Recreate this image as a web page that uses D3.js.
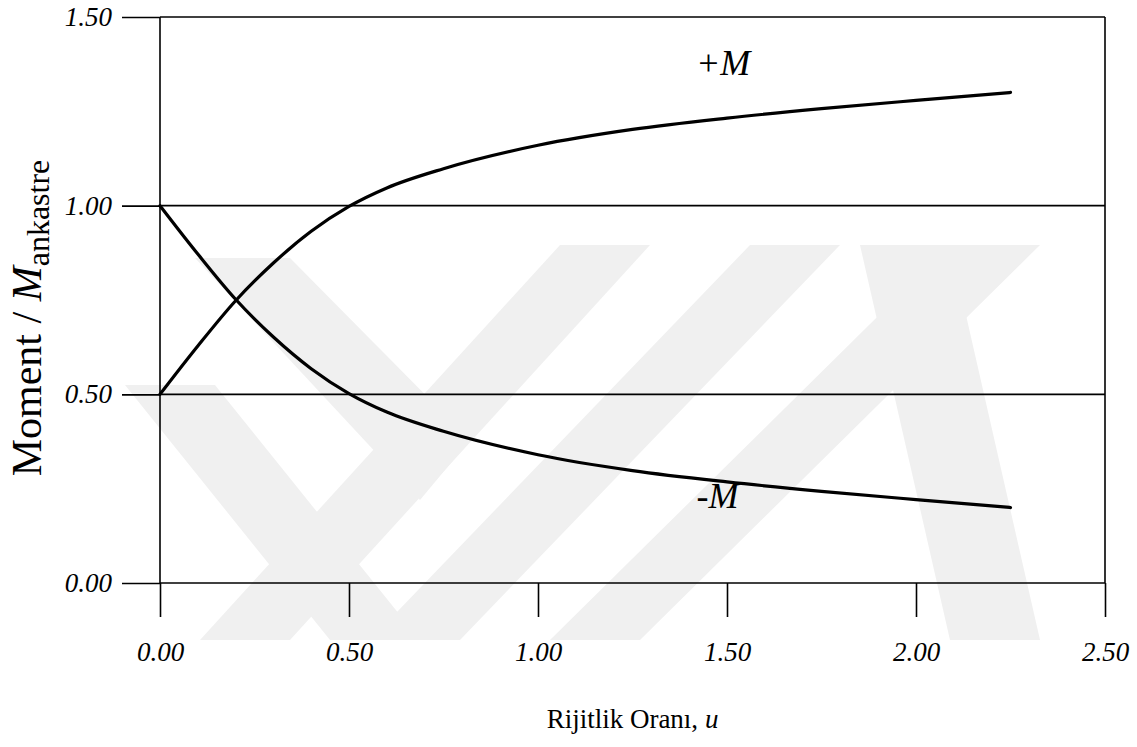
<!DOCTYPE html>
<html>
<head>
<meta charset="utf-8">
<script src="https://cdn.jsdelivr.net/npm/d3@7"></script>
<style>
  body { margin: 0; background: #fff; }
  svg { display: block; font-family: "Liberation Serif", "Times New Roman", serif; }
  .axis path.domain { display: none; }
  .axis line { stroke: #000; stroke-width: 1.6; }
  .axis text { font-family: "Liberation Serif", "Times New Roman", serif; font-size: 27px; font-style: italic; fill: #000; }
</style>
</head>
<body>
<svg id="chart" width="1137" height="747"></svg>
<script>
// stiffness ratio u (x values)
var uValues   = [0, 0.1, 0.2, 0.3, 0.4, 0.5, 0.6, 0.75, 1.0, 1.25, 1.5, 1.75, 2.0, 2.25];
// +M / M_ankastre
var posMoment = [0.50, 0.628, 0.748, 0.848, 0.932, 0.998, 1.047, 1.098, 1.16, 1.202, 1.232, 1.257, 1.279, 1.30];
// -M / M_ankastre
var negMoment = [1.00, 0.872, 0.752, 0.652, 0.568, 0.502, 0.453, 0.402, 0.34, 0.298, 0.268, 0.243, 0.221, 0.20];

var xTicks = [0, 0.5, 1.0, 1.5, 2.0, 2.5];
var yTicks = [0, 0.5, 1.0, 1.5];

// faint background watermark (pixel polygons, decoration only)
var watermark = [
  [[195,258],[290,258],[470,440],[420,500]],
  [[125,385],[215,385],[420,640],[330,640]],
  [[200,640],[290,640],[650,245],[560,245]],
  [[370,640],[460,640],[840,245],[750,245]],
  [[550,640],[640,640],[1040,245],[950,245]],
  [[860,245],[950,245],[1040,640],[950,640]]
];

(function(){
  var svg = d3.select("#chart");
  var margin = {left: 160, right: 32, top: 17, bottom: 164};
  var width = 1137 - margin.left - margin.right,
      height = 747 - margin.top - margin.bottom;

  svg.append("g").selectAll("polygon")
    .data(watermark)
    .enter().append("polygon")
    .attr("points", function(d){ return d.map(function(p){ return p.join(","); }).join(" "); })
    .attr("fill", "#f0f0f0");

  var g = svg.append("g").attr("transform", "translate(" + margin.left + "," + margin.top + ")");

  var x = d3.scaleLinear().domain([0, 2.5]).range([0, width]);
  var y = d3.scaleLinear().domain([0, 1.5]).range([height, 0]);

  // horizontal grid lines
  g.selectAll("line.grid")
    .data(yTicks)
    .enter().append("line")
    .attr("class", "grid")
    .attr("x1", 0).attr("x2", width)
    .attr("y1", function(d){ return y(d); })
    .attr("y2", function(d){ return y(d); })
    .attr("stroke", "#000").attr("stroke-width", 1.6);

  // left and right frame lines
  g.selectAll("line.frame")
    .data([0, 2.5])
    .enter().append("line")
    .attr("class", "frame")
    .attr("x1", function(d){ return x(d); })
    .attr("x2", function(d){ return x(d); })
    .attr("y1", 0).attr("y2", height)
    .attr("stroke", "#000").attr("stroke-width", 1.6);

  var xAxis = d3.axisBottom(x).tickValues(xTicks)
    .tickSizeInner(34).tickSizeOuter(0).tickPadding(25)
    .tickFormat(d3.format(".2f"));
  g.append("g").attr("class", "x axis")
    .attr("transform", "translate(0," + height + ")")
    .call(xAxis)
    .attr("font-family", null).attr("font-size", null);

  var yAxis = d3.axisLeft(y).tickValues(yTicks)
    .tickSizeInner(38).tickSizeOuter(0).tickPadding(10)
    .tickFormat(d3.format(".2f"));
  g.append("g").attr("class", "y axis").call(yAxis)
    .attr("font-family", null).attr("font-size", null);

  var line = d3.line()
    .x(function(d){ return x(d[0]); })
    .y(function(d){ return y(d[1]); })
    .curve(d3.curveMonotoneX);

  [posMoment, negMoment].forEach(function(series){
    g.append("path")
      .datum(d3.zip(uValues, series))
      .attr("fill", "none")
      .attr("stroke", "#000")
      .attr("stroke-width", 3.2)
      .attr("stroke-linecap", "round")
      .attr("stroke-linejoin", "round")
      .attr("d", line);
  });

  // curve labels
  g.append("text")
    .attr("x", x(1.49)).attr("y", y(1.345))
    .attr("text-anchor", "middle")
    .style("font-size", "36px").style("font-style", "italic")
    .text("+M");
  g.append("text")
    .attr("x", x(1.475)).attr("y", y(0.20))
    .attr("text-anchor", "middle")
    .style("font-size", "36px").style("font-style", "italic")
    .text("-M");

  // x axis title
  var xt = svg.append("text")
    .attr("x", margin.left + width / 2).attr("y", 728)
    .attr("text-anchor", "middle")
    .style("font-size", "27px");
  xt.append("tspan").text("Rijitlik Oranı, ");
  xt.append("tspan").style("font-style", "italic").text("u");

  // y axis title
  var yt = svg.append("text")
    .attr("transform", "translate(41,318) rotate(-90)")
    .attr("text-anchor", "middle")
    .style("font-size", "42px");
  yt.append("tspan").text("Moment / ");
  yt.append("tspan").style("font-style", "italic").text("M");
  yt.append("tspan").attr("dy", 8).style("font-size", "32px").text("ankastre");
})();
</script>
</body>
</html>
